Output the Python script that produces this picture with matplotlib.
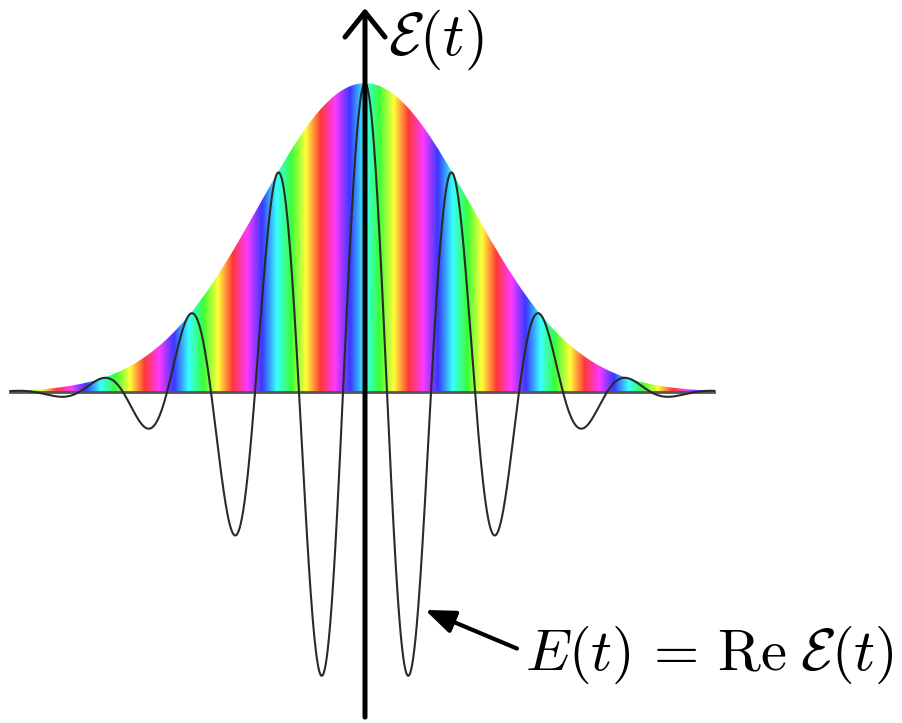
import numpy as np
import matplotlib.pyplot as plt
from matplotlib.colors import hsv_to_rgb
from matplotlib.patches import Polygon

plt.rcParams["mathtext.fontset"] = "cm"

# pulse parameters: time in carrier periods, field in units of the peak amplitude
period = 1.0
sigma = 1.2
amplitude = 1.0
hue_at_zero = 0.5          # colour of the carrier phase at t = 0
saturation = 0.78
t_range = (-4.03, 3.97)

t = np.linspace(t_range[0], t_range[1], 3000)
envelope = amplitude * np.exp(-t**2 / (2 * sigma**2))
field = envelope * np.cos(2 * np.pi * t / period)

fig = plt.figure(figsize=(9.03, 7.23), dpi=100)
ax = fig.add_axes([0, 0, 1, 1])
ax.set_xlim(-4.148, 6.114)
ax.set_ylim(-1.071, 1.269)
ax.axis("off")

# envelope filled with the carrier phase as hue
hue = (hue_at_zero - t / period) % 1.0
ones = np.ones_like(hue)
rgb = hsv_to_rgb(np.stack([hue, saturation * ones, ones], axis=-1))[None, :, :]
im = ax.imshow(rgb, extent=(t[0], t[-1], 0, amplitude), aspect="auto",
               interpolation="bilinear", zorder=1)
verts = np.column_stack([np.r_[t, t[::-1]], np.r_[envelope, np.zeros_like(t)]])
clip = Polygon(verts, closed=True, transform=ax.transData, fc="none", ec="none")
ax.add_patch(clip)
im.set_clip_path(clip)

ax.plot(t_range, [0, 0], color="#555555", lw=2, zorder=2)
ax.plot(t, field, color="#2a2a2a", lw=1.5, zorder=3)

# vertical axis
ax.annotate("", xy=(0, 1.252), xytext=(0, -1.061),
            arrowprops=dict(arrowstyle="->, head_length=0.9, head_width=0.72",
                            mutation_scale=20, lw=3.6, color="black"),
            zorder=4)
ax.text(0.26, 1.14, r"$\mathcal{E}(t)$", fontsize=43, ha="left", va="center")

# label for the real field
ax.annotate("", xy=(0.682, -0.705), xytext=(1.727, -0.83),
            arrowprops=dict(arrowstyle="-|>, head_length=0.9, head_width=0.35",
                            mutation_scale=20, lw=3, color="black",
                            shrinkA=0, shrinkB=0))
ax.text(1.818, -0.852, r"$E(t)\,=\,\mathrm{Re}\;\mathcal{E}(t)$",
        fontsize=42, ha="left", va="center")

fig.savefig("out.png", dpi=100)
